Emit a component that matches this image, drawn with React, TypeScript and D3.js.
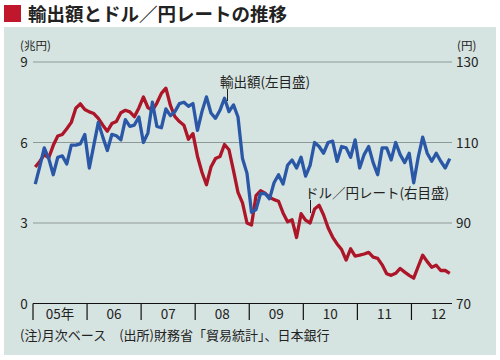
import React from "react";
import * as d3 from "d3";

const years = ["05年", "06", "07", "08", "09", "10", "11", "12"];
const leftTicks = [0, 3, 6, 9];
const rightTicks = [70, 90, 110, 130];

// 輸出額 (兆円), monthly Jan 2005 – Sep 2012
const exportsVal = [
  4.45, 5.1, 5.8, 5.4, 4.8, 5.45, 5.5, 5.2, 5.9, 5.9, 5.95, 6.3,
  5.05, 5.9, 6.75, 6.2, 5.7, 6.3, 6.25, 6.1, 6.85, 6.6, 6.65, 6.95,
  6.0, 6.35, 7.5, 6.6, 6.55, 7.25, 7.0, 7.15, 7.45, 7.5, 7.35, 7.45,
  6.45, 7.15, 7.7, 7.1, 6.9, 7.2, 7.65, 7.15, 7.4, 6.95, 5.4, 4.85,
  3.4, 3.5, 4.1, 4.1, 3.9, 4.5, 4.8, 4.45, 5.15, 5.35, 5.05, 5.45,
  4.75, 5.15, 6.0, 5.85, 5.6, 6.0, 6.05, 5.3, 5.85, 5.8, 5.45, 6.1,
  5.05, 5.55, 5.85, 5.25, 4.8, 5.8, 5.8, 5.35, 6.0, 5.55, 5.25, 5.6,
  4.5, 5.45, 6.2, 5.6, 5.3, 5.6, 5.3, 5.05, 5.4,
];

// ドル／円レート (円), monthly Jan 2005 – Sep 2012
const yenRate = [
  103.9, 105.3, 107.0, 106.2, 109.3, 111.6, 112.0, 113.4, 115.0, 118.5, 119.6, 118.2,
  117.6, 117.2, 116.0, 114.3, 112.8, 114.7, 115.2, 117.4, 118.0, 117.6, 116.4, 118.6,
  121.3, 118.7, 118.0, 119.8, 122.2, 123.5, 119.2, 116.4, 115.2, 114.3, 110.8, 112.2,
  106.6, 102.6, 99.5, 103.9, 106.0, 106.5, 109.5, 108.2, 103.0, 97.6, 95.0, 90.0,
  89.5, 96.8, 98.0, 97.4, 96.4, 95.8, 95.4, 92.5, 90.3, 90.8, 86.4, 92.3,
  90.7, 90.0, 93.5, 94.4, 92.0, 88.8, 86.5, 84.8, 83.4, 80.8, 83.6, 81.8,
  82.0, 82.3, 82.7, 81.5, 81.2, 79.6, 77.4, 77.0, 77.5, 78.7, 77.8, 77.0,
  76.3, 79.2, 82.0, 80.4, 79.0, 79.5, 78.2, 78.2, 77.5,
];

const FONT = "'Noto Sans CJK JP', 'Noto Sans', sans-serif";

export default function App() {
  const W = 500, H = 360;
  const x = d3.scaleLinear().domain([0, 93]).range([33, 452]);
  const yL = d3.scaleLinear().domain([0, 9]).range([303.5, 62]);
  const yR = d3.scaleLinear().domain([70, 130]).range([303.5, 62]);

  const lineL = d3.line<number>().x((_, i) => x(i + 0.5)).y((d) => yL(d)).curve(d3.curveLinear);
  const lineR = d3.line<number>().x((_, i) => x(i + 0.5)).y((d) => yR(d)).curve(d3.curveLinear);

  const blue = "#2b58a6";
  const red = "#ad1529";
  const grid = "#8d9997";

  return (
    <svg width={W} height={H} style={{ position: "absolute", left: 0, top: 0, fontFamily: FONT }}>
      <rect x={0} y={0} width={W} height={H} fill="#ffffff" />
      {/* title */}
      <rect x={4} y={5} width={17} height={17} fill="#c0172d" />
      <text x={28} y={21} fontSize={18.5} fontWeight="bold" fill="#222">輸出額とドル／円レートの推移</text>
      {/* panel */}
      <rect x={4} y={27} width={492} height={328} fill="#d6e4e1" />

      {/* unit labels */}
      <text x={20} y={49.5} fontSize={11.5} fill="#222">(兆円)</text>
      <text x={457} y={49.5} fontSize={11.5} fill="#222">(円)</text>

      {/* gridlines */}
      {leftTicks.filter((t) => t > 0).map((t) => (
        <line key={t} x1={33} x2={452} y1={yL(t)} y2={yL(t)} stroke={grid} strokeWidth={1} />
      ))}
      {leftTicks.map((t) => (
        <text key={"l" + t} x={24} y={yL(t) + 5} fontSize={13.5} textAnchor="middle" fill="#222">{t}</text>
      ))}
      {rightTicks.map((t) => (
        <text key={"r" + t} x={456} y={yR(t) + 5} fontSize={13.5} textAnchor="start" fill="#222">{t}</text>
      ))}

      {/* x axis */}
      <line x1={33} x2={452} y1={303.5} y2={303.5} stroke="#111" strokeWidth={1.2} />
      {years.map((yr, k) => (
        <g key={yr}>
          <line x1={x(12 * k)} x2={x(12 * k)} y1={303.5} y2={320} stroke="#111" strokeWidth={1.2} />
          <text x={x(12 * k + 6)} y={318.5} fontSize={13.5} textAnchor="middle" fill="#222">{yr}</text>
        </g>
      ))}

      {/* lines */}
      <path d={lineR(yenRate) || ""} fill="none" stroke={red} strokeWidth={3.3} strokeLinejoin="round" />
      <path d={lineL(exportsVal) || ""} fill="none" stroke={blue} strokeWidth={3.3} strokeLinejoin="round" />

      {/* annotations */}
      <text x={220} y={87} fontSize={13.5} fill="#222">輸出額(左目盛)</text>
      <line x1={227.5} x2={227.5} y1={89} y2={101} stroke="#222" strokeWidth={1} />
      <text x={305} y={198} fontSize={13.5} fill="#222">ドル／円レート(右目盛)</text>
      <line x1={310.5} x2={310.5} y1={200} y2={213} stroke="#222" strokeWidth={1} />

      {/* note */}
      <text x={20} y={340} fontSize={13} fill="#222">(注)月次ベース　(出所)財務省「貿易統計」、日本銀行</text>
    </svg>
  );
}
